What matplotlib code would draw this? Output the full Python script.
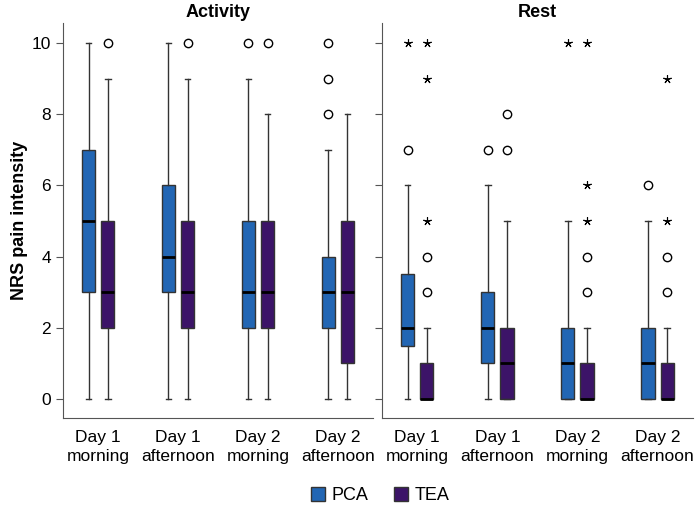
import matplotlib
matplotlib.use('Agg')
import matplotlib.pyplot as plt
from matplotlib.patches import Patch

plt.rcParams['font.family'] = ['Liberation Sans', 'DejaVu Sans']

# data
groups = ['Day 1\nmorning', 'Day 1\nafternoon', 'Day 2\nmorning', 'Day 2\nafternoon']
series = ['PCA', 'TEA']
colors = {'PCA': '#2266B4', 'TEA': '#3C1468'}

# five-number summaries: (whisker low, q1, median, q3, whisker high)
activity_pca = [(0, 3, 5, 7, 10), (0, 3, 4, 6, 10), (0, 2, 3, 5, 9), (0, 2, 3, 4, 7)]
activity_tea = [(0, 2, 3, 5, 9), (0, 2, 3, 5, 9), (0, 2, 3, 5, 8), (0, 1, 3, 5, 8)]
rest_pca = [(0, 1.5, 2, 3.5, 6), (0, 1, 2, 3, 6), (0, 0, 1, 2, 5), (0, 0, 1, 2, 5)]
rest_tea = [(0, 0, 0, 1, 2), (0, 0, 1, 2, 5), (0, 0, 0, 1, 2), (0, 0, 0, 1, 2)]

# outliers (circles) and extreme values (stars)
activity_pca_out = [[], [], [10], [8, 9, 10]]
activity_tea_out = [[10], [10], [10], []]
activity_pca_ext = [[], [], [], []]
activity_tea_ext = [[], [], [], []]
rest_pca_out = [[7], [7], [], [6]]
rest_tea_out = [[3, 4], [7, 8], [3, 4], [3, 4]]
rest_pca_ext = [[10], [], [10], []]
rest_tea_ext = [[5, 9, 10], [], [5, 6, 10], [5, 9]]

panels = [
    ('Activity', {'PCA': activity_pca, 'TEA': activity_tea},
     {'PCA': activity_pca_out, 'TEA': activity_tea_out},
     {'PCA': activity_pca_ext, 'TEA': activity_tea_ext}),
    ('Rest', {'PCA': rest_pca, 'TEA': rest_tea},
     {'PCA': rest_pca_out, 'TEA': rest_tea_out},
     {'PCA': rest_pca_ext, 'TEA': rest_tea_ext}),
]

fig = plt.figure(figsize=(6.97, 5.05), dpi=100)
ax1 = fig.add_axes([0.0904, 0.1723, 0.4448, 0.7822])
ax2 = fig.add_axes([0.548, 0.1723, 0.446, 0.7822], sharey=ax1)
offsets = {'PCA': -0.12, 'TEA': 0.12}
spine_col = '#555555'

for ax, (title, stats, outs, exts) in zip([ax1, ax2], panels):
    for s in series:
        bxp_stats = []
        for i, (lo, q1, med, q3, hi) in enumerate(stats[s]):
            bxp_stats.append({'whislo': lo, 'q1': q1, 'med': med, 'q3': q3,
                              'whishi': hi, 'fliers': outs[s][i]})
        pos = [i + offsets[s] for i in range(len(groups))]
        ax.bxp(bxp_stats, positions=pos, widths=0.165, patch_artist=True,
               showfliers=True,
               boxprops=dict(facecolor=colors[s], edgecolor='#333333', linewidth=1.0),
               medianprops=dict(color='black', linewidth=2.0),
               whiskerprops=dict(color='#333333', linewidth=1.0),
               capprops=dict(color='#333333', linewidth=1.0),
               capwidths=0.07,
               flierprops=dict(marker='o', markerfacecolor='white',
                               markeredgecolor='black', markersize=6,
                               markeredgewidth=1.0, linestyle='none'))
        for i, vals in enumerate(exts[s]):
            if vals:
                ax.plot([pos[i]] * len(vals), vals, linestyle='none', marker=(5, 2, 0),
                        color='black', markersize=6, markeredgewidth=0.8)
    ax.set_xlim(-0.44, 3.44)
    ax.set_ylim(-0.53, 10.56)
    ax.set_xticks(range(len(groups)))
    ax.set_xticklabels(groups, fontsize=12.5, linespacing=1.3)
    ax.tick_params(axis='x', length=0, pad=9)
    ax.tick_params(axis='y', labelsize=12.5, color=spine_col, length=5, direction='out')
    ax.set_title(title, fontsize=13, fontweight='bold', pad=4)
    for side in ['top', 'right']:
        ax.spines[side].set_visible(False)
    for side in ['left', 'bottom']:
        ax.spines[side].set_color(spine_col)

ax1.set_yticks([0, 2, 4, 6, 8, 10])
ax1.set_ylabel('NRS pain intensity', fontsize=13, fontweight='bold', labelpad=3)
ax2.tick_params(axis='y', labelleft=False)

handles = [Patch(facecolor=colors[s], edgecolor='#333333', label=s) for s in series]
fig.legend(handles=handles, loc='lower center', ncol=2, frameon=False, fontsize=13,
           bbox_to_anchor=(0.545, -0.03), handlelength=0.8, handleheight=0.8,
           columnspacing=1.4, handletextpad=0.35)

fig.savefig('out.png', dpi=100)
